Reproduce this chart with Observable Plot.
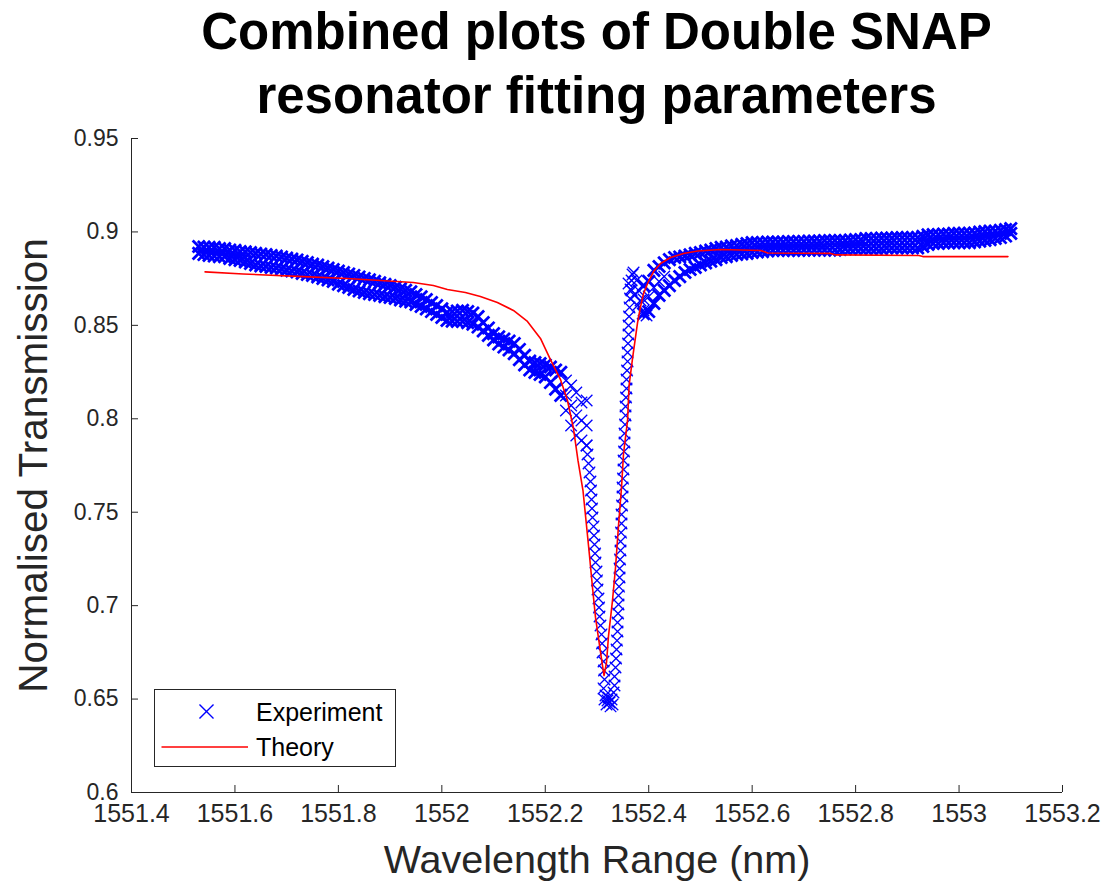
<!DOCTYPE html>
<html>
<head>
<meta charset="utf-8">
<script src="https://cdn.jsdelivr.net/npm/d3@7"></script>
<script src="https://cdn.jsdelivr.net/npm/@observablehq/plot@0.6"></script>
<style>
  body { margin: 0; background: #fff; }
  #wrap { position: relative; width: 1114px; height: 894px; background: #fff; font-family: "Liberation Sans", Arial, Helvetica, sans-serif; color: #262626; }
  #title { position: absolute; left: 131px; top: 0; width: 931px; text-align: center; font-weight: bold; font-size: 51px; line-height: 64px; color: #000; }
  #chart { position: absolute; left: 0; top: 130px; }
  #legend { position: absolute; left: 154px; top: 689px; width: 242px; height: 78px; box-sizing: border-box; border: 1px solid #262626; background: #fff; }
  #legend svg { position: absolute; left: 0; top: 0; }
</style>
</head>
<body>
<div id="wrap">
  <div id="title">Combined plots of Double SNAP<br>resonator fitting parameters</div>
  <div id="chart"></div>
  <div id="legend"></div>
</div>
<script>
// ---- Tick values and labels ----
const xTicks = [1551.4, 1551.6, 1551.8, 1552.0, 1552.2, 1552.4, 1552.6, 1552.8, 1553.0, 1553.2];
const xTickLabels = ["1551.4", "1551.6", "1551.8", "1552", "1552.2", "1552.4", "1552.6", "1552.8", "1553", "1553.2"];
const yTicks = [0.6, 0.65, 0.7, 0.75, 0.8, 0.85, 0.9, 0.95];
const yTickLabels = ["0.6", "0.65", "0.7", "0.75", "0.8", "0.85", "0.9", "0.95"];

// ---- Experiment: left shoulder (upper and lower edge of the noisy band) ----
const leftX = [1551.53,1551.54,1551.55,1551.56,1551.57,1551.58,1551.59,1551.60,1551.61,1551.62,
  1551.63,1551.64,1551.65,1551.66,1551.67,1551.68,1551.69,1551.70,1551.71,1551.72,
  1551.73,1551.74,1551.75,1551.76,1551.77,1551.78,1551.79,1551.80,1551.81,1551.82,
  1551.83,1551.84,1551.85,1551.86,1551.87,1551.88,1551.89,1551.90,1551.91,1551.92,
  1551.93,1551.94,1551.95,1551.96,1551.97,1551.98,1551.99,1552.00,1552.01,1552.02,
  1552.03,1552.04,1552.05,1552.06,1552.07,1552.08,1552.09,1552.10,1552.11,1552.12,
  1552.13,1552.14,1552.15,1552.16,1552.17,1552.18,1552.19,1552.20,1552.21,1552.22,1552.23];
const leftUpper = [0.8922,0.8919,0.8917,0.8917,0.8911,0.8911,0.8903,0.8901,0.8895,0.8893,
  0.8890,0.8885,0.8882,0.8879,0.8874,0.8871,0.8866,0.8860,0.8855,0.8850,
  0.8842,0.8836,0.8828,0.8823,0.8815,0.8807,0.8799,0.8791,0.8783,0.8775,
  0.8767,0.8759,0.8751,0.8743,0.8735,0.8727,0.8719,0.8713,0.8703,0.8695,
  0.8687,0.8679,0.8665,0.8652,0.8638,0.8622,0.8606,0.8588,0.8569,0.8574,
  0.8577,0.8580,0.8574,0.8566,0.8547,0.8515,0.8486,0.8456,0.8438,0.8427,
  0.8416,0.8403,0.8371,0.8339,0.8309,0.8301,0.8296,0.8288,0.8277,0.8261,0.8248];
const leftLower = [0.8885,0.8879,0.8874,0.8871,0.8868,0.8868,0.8858,0.8852,0.8847,0.8839,
  0.8831,0.8823,0.8818,0.8815,0.8810,0.8807,0.8802,0.8796,0.8791,0.8786,
  0.8778,0.8772,0.8767,0.8759,0.8751,0.8743,0.8735,0.8721,0.8713,0.8703,
  0.8692,0.8684,0.8676,0.8670,0.8665,0.8660,0.8654,0.8649,0.8644,0.8636,
  0.8630,0.8625,0.8612,0.8601,0.8588,0.8574,0.8558,0.8542,0.8526,0.8523,
  0.8521,0.8521,0.8515,0.8507,0.8491,0.8470,0.8446,0.8422,0.8400,0.8384,
  0.8368,0.8349,0.8317,0.8288,0.8261,0.8248,0.8237,0.8224,0.8194,0.8159,0.8125];

// ---- Experiment: right shoulder ----
const rightX = [1552.39,1552.40,1552.41,1552.42,1552.43,1552.44,1552.45,1552.46,1552.47,1552.48,
  1552.49,1552.50,1552.51,1552.52,1552.53,1552.54,1552.55,1552.56,1552.57,1552.58,
  1552.59,1552.60,1552.61,1552.62,1552.63,1552.64,1552.65,1552.66,1552.67,1552.68,
  1552.69,1552.70,1552.71,1552.72,1552.73,1552.74,1552.75,1552.76,1552.77,1552.78,
  1552.79,1552.80,1552.81,1552.82,1552.83,1552.84,1552.85,1552.86,1552.87,1552.88,
  1552.89,1552.90,1552.91,1552.92,1552.93,1552.94,1552.95,1552.96,1552.97,1552.98,
  1552.99,1553.00,1553.01,1553.02,1553.03,1553.04,1553.05,1553.06,1553.07,1553.08,
  1553.09,1553.10];
const rightUpper = [0.8713,0.8735,0.8794,0.8815,0.8834,0.8852,0.8863,0.8866,0.8871,0.8877,
  0.8885,0.8890,0.8898,0.8903,0.8911,0.8917,0.8919,0.8925,0.8927,0.8933,
  0.8938,0.8943,0.8943,0.8943,0.8946,0.8946,0.8946,0.8946,0.8949,0.8949,
  0.8949,0.8949,0.8951,0.8951,0.8951,0.8954,0.8954,0.8954,0.8954,0.8954,
  0.8957,0.8959,0.8959,0.8965,0.8965,0.8965,0.8967,0.8967,0.8967,0.8970,
  0.8970,0.8970,0.8970,0.8970,0.8976,0.8984,0.8986,0.8986,0.8989,0.8989,
  0.8992,0.8992,0.8992,0.8992,0.8994,0.8999,0.9002,0.9005,0.9005,0.9008,
  0.9013,0.9018];
const rightLower = [0.8563,0.8574,0.8617,0.8660,0.8687,0.8713,0.8740,0.8761,0.8783,0.8799,
  0.8810,0.8823,0.8834,0.8844,0.8852,0.8863,0.8868,0.8874,0.8879,0.8882,
  0.8885,0.8890,0.8893,0.8895,0.8898,0.8901,0.8901,0.8901,0.8901,0.8901,
  0.8901,0.8903,0.8903,0.8903,0.8903,0.8903,0.8903,0.8903,0.8906,0.8909,
  0.8909,0.8911,0.8911,0.8911,0.8911,0.8911,0.8911,0.8914,0.8914,0.8914,
  0.8914,0.8914,0.8914,0.8914,0.8922,0.8933,0.8938,0.8938,0.8941,0.8941,
  0.8943,0.8943,0.8943,0.8943,0.8946,0.8951,0.8954,0.8959,0.8965,0.8970,
  0.8978,0.8992];

// ---- Experiment: resonance dip (individual markers) ----
const dipX = [
  // cluster before the dip
  1552.24,1552.24,1552.24,1552.25,1552.25,1552.25,1552.26,1552.26,1552.26,1552.27,1552.27,1552.27,1552.28,1552.28,1552.28,
  // left wall
  1552.2797,1552.2816,1552.2836,1552.2855,1552.2874,1552.2884,1552.2894,1552.2903,1552.2913,1552.2933,
  1552.2942,1552.2952,1552.2962,1552.2971,1552.2991,1552.3000,1552.3010,1552.3029,1552.3039,1552.3049,
  1552.3068,1552.3087,1552.3097,1552.3107,1552.3126,1552.3136,1552.3145,
  // bottom
  1552.3126,1552.3165,1552.3203,1552.3242,1552.3281,1552.3320,1552.3184,1552.3262,1552.3300,1552.3223,1552.3145,1552.3339,
  // right wall
  1552.3339,1552.3358,1552.3368,1552.3378,1552.3387,1552.3397,1552.3397,1552.3407,1552.3416,1552.3416,
  1552.3426,1552.3436,1552.3436,1552.3445,1552.3455,1552.3455,1552.3465,1552.3474,1552.3474,1552.3484,
  1552.3494,1552.3494,1552.3503,1552.3513,1552.3513,1552.3523,1552.3532,1552.3532,1552.3542,1552.3552,
  1552.3552,1552.3561,1552.3571,1552.3571,1552.3581,1552.3591,1552.3591,1552.3600,1552.3610,1552.3610,
  1552.3620,1552.3629,1552.3639,1552.3649,1552.3668,1552.3687,
  // spike after the dip
  1552.3610,1552.3707,1552.3765,1552.3804,1552.3842,1552.3900,1552.3958,1552.3726,1552.3784,1552.3668,
  1552.39,1552.40,1552.41,1552.42,1552.43];
const dipY = [
  0.8205,0.8125,0.8044,0.8178,0.8071,0.7964,0.8141,0.8018,0.7911,0.8087,0.7991,0.7884,0.8098,0.7964,0.7857,
  0.7857,0.7809,0.7761,0.7713,0.7664,0.7616,0.7568,0.7520,0.7472,0.7424,
  0.7375,0.7327,0.7279,0.7231,0.7183,0.7135,0.7086,0.7038,0.6990,0.6942,
  0.6894,0.6846,0.6797,0.6749,0.6701,0.6653,0.6605,
  0.6557,0.6519,0.6492,0.6482,0.6498,0.6535,0.6471,0.6461,0.6471,0.6508,0.6498,0.6573,
  0.6621,0.6669,0.6717,0.6765,0.6813,0.6862,0.6910,0.6958,0.7006,0.7054,
  0.7102,0.7151,0.7199,0.7247,0.7295,0.7343,0.7391,0.7440,0.7488,0.7536,
  0.7584,0.7632,0.7680,0.7729,0.7777,0.7825,0.7873,0.7921,0.7969,0.8018,
  0.8066,0.8114,0.8162,0.8210,0.8258,0.8307,0.8355,0.8403,0.8451,0.8499,
  0.8547,0.8596,0.8644,0.8692,0.8740,0.8772,
  0.8724,0.8783,0.8740,0.8687,0.8633,0.8580,0.8553,0.8660,0.8606,0.8687,
  0.8638,0.8654,0.8703,0.8735,0.8761];

// ---- Theory curve ----
const theoryX = [1551.5423,1551.6158,1551.7319,1551.8171,1551.8810,1551.9448,1551.9836,1552.0107,1552.0455,1552.0745,
  1552.1074,1552.1384,1552.1655,1552.1907,1552.2100,1552.2294,1552.2429,1552.2545,1552.2632,1552.2729,
  1552.2797,1552.2855,1552.2913,1552.2971,1552.3049,1552.3097,1552.3136,1552.3184,1552.3223,1552.3300,
  1552.3358,1552.3416,1552.3474,1552.3513,1552.3591,1552.3620,1552.3687,1552.3784,1552.3842,1552.3900,
  1552.3977,1552.4094,1552.4229,1552.4423,1552.4674,1552.4945,1552.5390,1552.6165,1552.6300,1552.7519,
  1552.7616,1552.9223,1552.9300,1553.0945];
const theoryY = [0.8786,0.8775,0.8761,0.8751,0.8740,0.8729,0.8713,0.8692,0.8676,0.8654,
  0.8622,0.8580,0.8521,0.8430,0.8317,0.8210,0.8098,0.7948,0.7777,0.7616,
  0.7429,0.7268,0.7097,0.6937,0.6787,0.6696,0.6626,0.6696,0.6840,0.7028,
  0.7204,0.7429,0.7632,0.7814,0.7991,0.8178,0.8323,0.8515,0.8601,0.8670,
  0.8724,0.8788,0.8831,0.8863,0.8885,0.8898,0.8906,0.8901,0.8887,0.8885,
  0.8877,0.8874,0.8868,0.8868];

// ---- Build tables ----
const bandPoints = [
  ...leftX.map((x, i) => ({x, y: leftUpper[i]})),
  ...leftX.map((x, i) => ({x, y: leftLower[i]})),
  ...rightX.map((x, i) => ({x, y: rightUpper[i]})),
  ...rightX.map((x, i) => ({x, y: rightLower[i]}))
];
const dipPoints = dipX.map((x, i) => ({x, y: dipY[i]}));
const theory = theoryX.map((x, i) => ({x, y: theoryY[i]}));

const AX = "#262626";
const FONT = "'Liberation Sans', Arial, Helvetica, sans-serif";
const W = 1114, H = 764, ML = 131, MR = 52, MT = 8, MB = 102;
const FW = W - ML - MR, FH = H - MT - MB;

const chart = Plot.plot({
  width: W, height: H,
  marginLeft: ML, marginRight: MR, marginTop: MT, marginBottom: MB,
  x: {domain: [1551.4, 1553.2]},
  y: {domain: [0.6, 0.95]},
  style: {fontFamily: FONT, color: AX, background: "white", overflow: "visible"},
  marks: [
    Plot.dot(bandPoints, {x: "x", y: "y", symbol: "times", r: 5.6, stroke: "#0000ff", strokeWidth: 2.8}),
    Plot.dot(dipPoints, {x: "x", y: "y", symbol: "times", r: 5.3, stroke: "#0000ff", strokeWidth: 1.3}),
    Plot.line(theory, {x: "x", y: "y", stroke: "#ff0000", strokeWidth: 1.6}),
    Plot.ruleY([0.6], {stroke: AX, strokeWidth: 1}),
    Plot.ruleX([1551.4], {stroke: AX, strokeWidth: 1}),
    Plot.tickX(xTicks, {x: d => d, insetTop: FH - 7, stroke: AX}),
    Plot.tickY(yTicks, {y: d => d, insetRight: FW - 7, stroke: AX}),
    Plot.axisX(xTicks, {tickSize: 0, tickPadding: 12, fontSize: 25, label: null, fill: AX,
      tickFormat: d => xTickLabels[xTicks.indexOf(d)]}),
    Plot.axisY(yTicks, {tickSize: 0, tickPadding: 13, fontSize: 23, label: null, fill: AX,
      tickFormat: d => yTickLabels[yTicks.indexOf(d)]}),
    Plot.text(["Normalised Transmission"], {frameAnchor: "left", dx: -97, rotate: -90,
      textAnchor: "middle", lineAnchor: "middle", fontSize: 40.5, fill: AX}),
    Plot.text(["Wavelength Range (nm)"], {frameAnchor: "bottom", dy: 68,
      textAnchor: "middle", lineAnchor: "middle", fontSize: 39.5, fill: AX})
  ]
});
document.getElementById("chart").appendChild(chart);

// ---- Legend ----
const lg = d3.select("#legend").append("svg").attr("width", 240).attr("height", 76)
  .style("font-family", FONT);
lg.append("path").attr("d", d3.symbol(d3.symbolTimes, 130)()).attr("transform", "translate(51.5,21.5)")
  .attr("fill", "none").attr("stroke", "#0000ff").attr("stroke-width", 1.4);
lg.append("line").attr("x1", 6.5).attr("x2", 93).attr("y1", 57).attr("y2", 57)
  .attr("stroke", "#ff0000").attr("stroke-width", 1.6);
lg.append("text").attr("x", 101).attr("y", 31).attr("font-size", 25).attr("fill", "#000").text("Experiment");
lg.append("text").attr("x", 101).attr("y", 66).attr("font-size", 25).attr("fill", "#000").text("Theory");
</script>
</body>
</html>
